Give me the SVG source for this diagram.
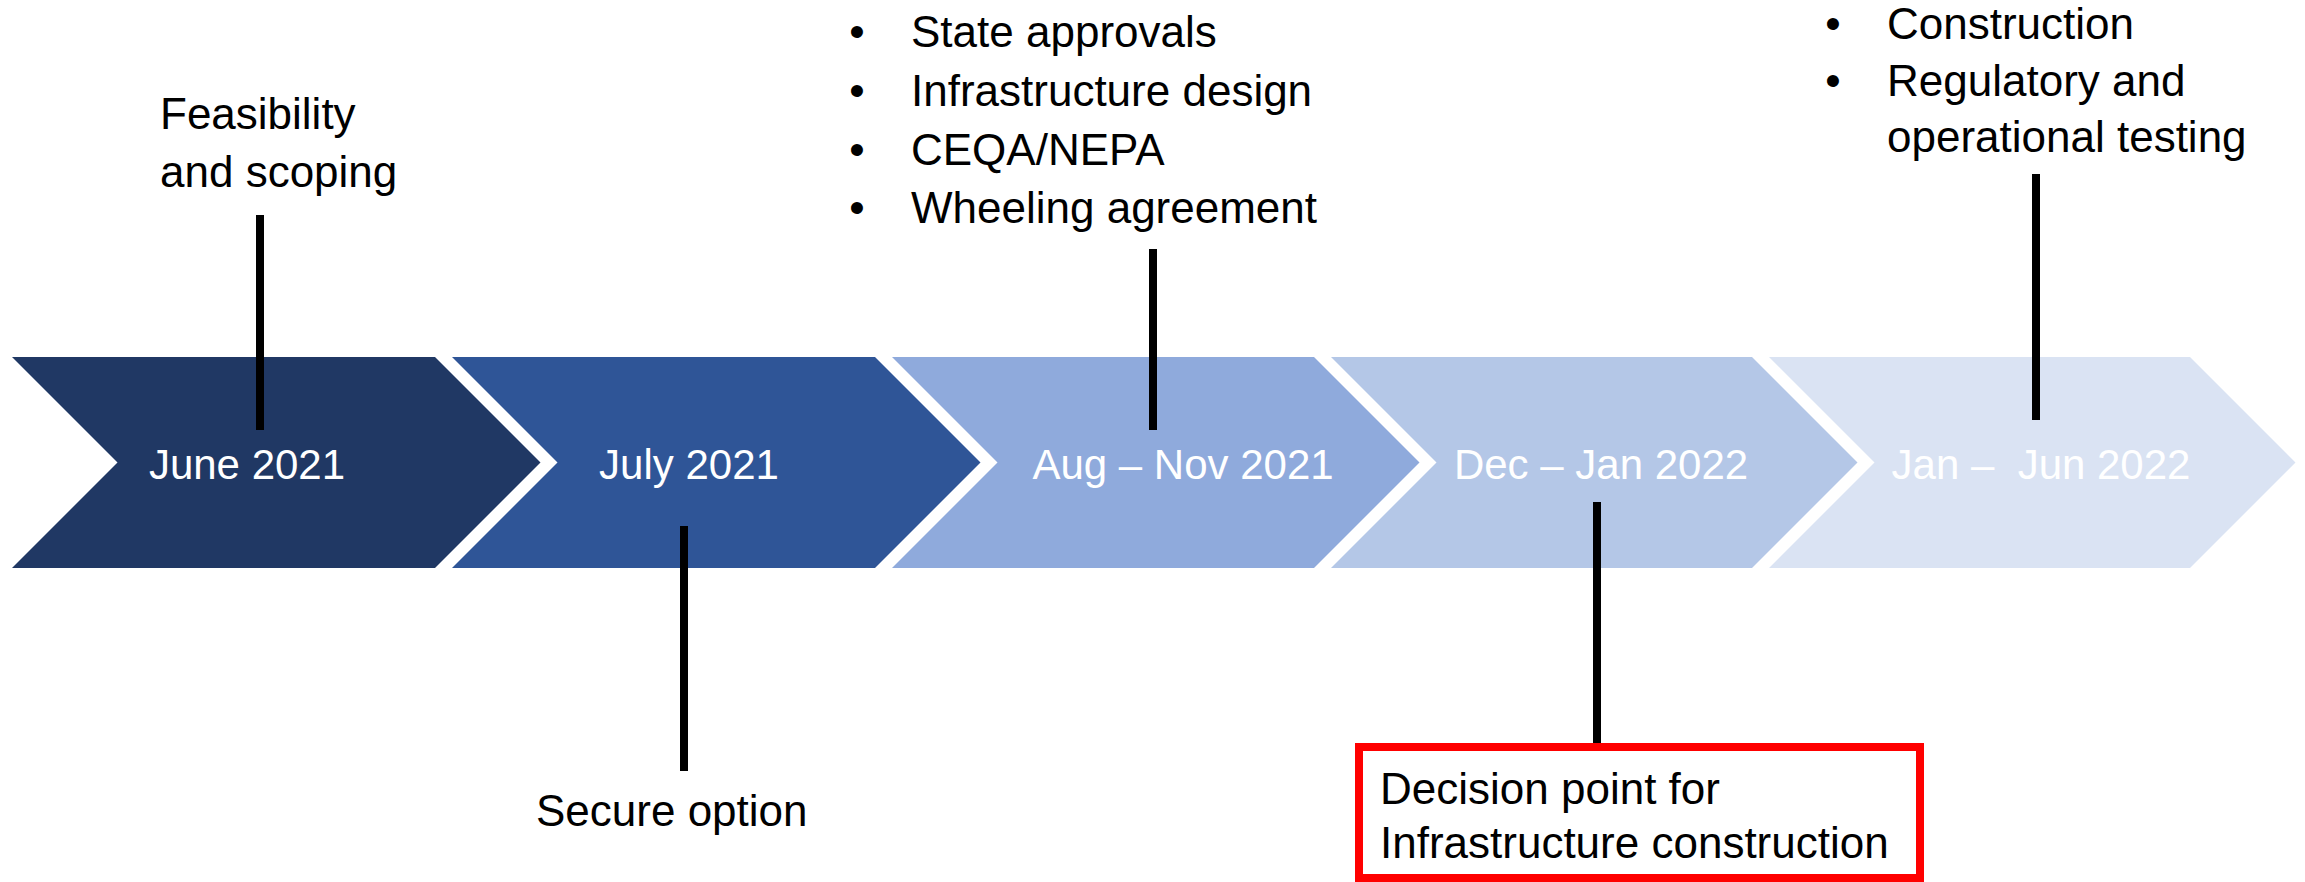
<svg xmlns="http://www.w3.org/2000/svg" width="2305" height="882" viewBox="0 0 2305 882">
<style>
.lbl{font-family:"Liberation Sans",Arial,sans-serif;font-size:44px;fill:#000}
.cv{font-family:"Liberation Sans",Arial,sans-serif;font-size:42px;fill:#fff;text-anchor:middle}
.blt{font-family:"Liberation Sans",Arial,sans-serif;font-size:44px;fill:#000;text-anchor:middle}
.tick{stroke:#000;stroke-width:8;fill:none}
</style>
<rect width="2305" height="882" fill="#fff"/>
<g id="chevron-1">
<polygon points="12,357 435,357 540.5,462.5 435,568 12,568 117.5,462.5" fill="#203864"/>
<text class="cv" x="247" y="479">June 2021</text>
</g>
<g id="chevron-2">
<polygon points="452,357 875,357 980.5,462.5 875,568 452,568 557.5,462.5" fill="#2F5597"/>
<text class="cv" x="689" y="479">July 2021</text>
</g>
<g id="chevron-3">
<polygon points="892,357 1314,357 1419.5,462.5 1314,568 892,568 997.5,462.5" fill="#8FAADC"/>
<text class="cv" x="1183" y="479">Aug – Nov 2021</text>
</g>
<g id="chevron-4">
<polygon points="1331,357 1752,357 1857.5,462.5 1752,568 1331,568 1436.5,462.5" fill="#B4C7E7"/>
<text class="cv" x="1601" y="479">Dec – Jan 2022</text>
</g>
<g id="chevron-5">
<polygon points="1769,357 2190,357 2295.5,462.5 2190,568 1769,568 1874.5,462.5" fill="#DAE3F3"/>
<text class="cv" x="2041" y="479" xml:space="preserve">Jan –  Jun 2022</text>
</g>
<g id="connectors">
<line class="tick" x1="260" y1="215" x2="260" y2="430"/>
<line class="tick" x1="684" y1="526" x2="684" y2="771"/>
<line class="tick" x1="1153" y1="249" x2="1153" y2="430"/>
<line class="tick" x1="1597" y1="502" x2="1597" y2="743"/>
<line class="tick" x1="2036" y1="174" x2="2036" y2="420"/>
</g>
<g id="note-feasibility">
<text class="lbl" x="160" y="129">Feasibility</text>
<text class="lbl" x="160" y="187">and scoping</text>
</g>
<g id="note-secure">
<text class="lbl" x="536" y="826">Secure option</text>
</g>
<g id="note-approvals">
<text class="blt" x="857" y="47">•</text>
<text class="lbl" x="911" y="47">State approvals</text>
<text class="blt" x="857" y="106">•</text>
<text class="lbl" x="911" y="106">Infrastructure design</text>
<text class="blt" x="857" y="165">•</text>
<text class="lbl" x="911" y="165">CEQA/NEPA</text>
<text class="blt" x="857" y="223">•</text>
<text class="lbl" x="911" y="223">Wheeling agreement</text>
</g>
<g id="note-decision">
<rect x="1359" y="747" width="561" height="131" fill="#fff" stroke="#FF0000" stroke-width="8"/>
<text class="lbl" x="1380" y="804">Decision point for</text>
<text class="lbl" x="1380" y="858">Infrastructure construction</text>
</g>
<g id="note-construction">
<text class="blt" x="1833" y="39">•</text>
<text class="lbl" x="1887" y="39">Construction</text>
<text class="blt" x="1833" y="96">•</text>
<text class="lbl" x="1887" y="96">Regulatory and</text>
<text class="lbl" x="1887" y="152">operational testing</text>
</g>
</svg>
